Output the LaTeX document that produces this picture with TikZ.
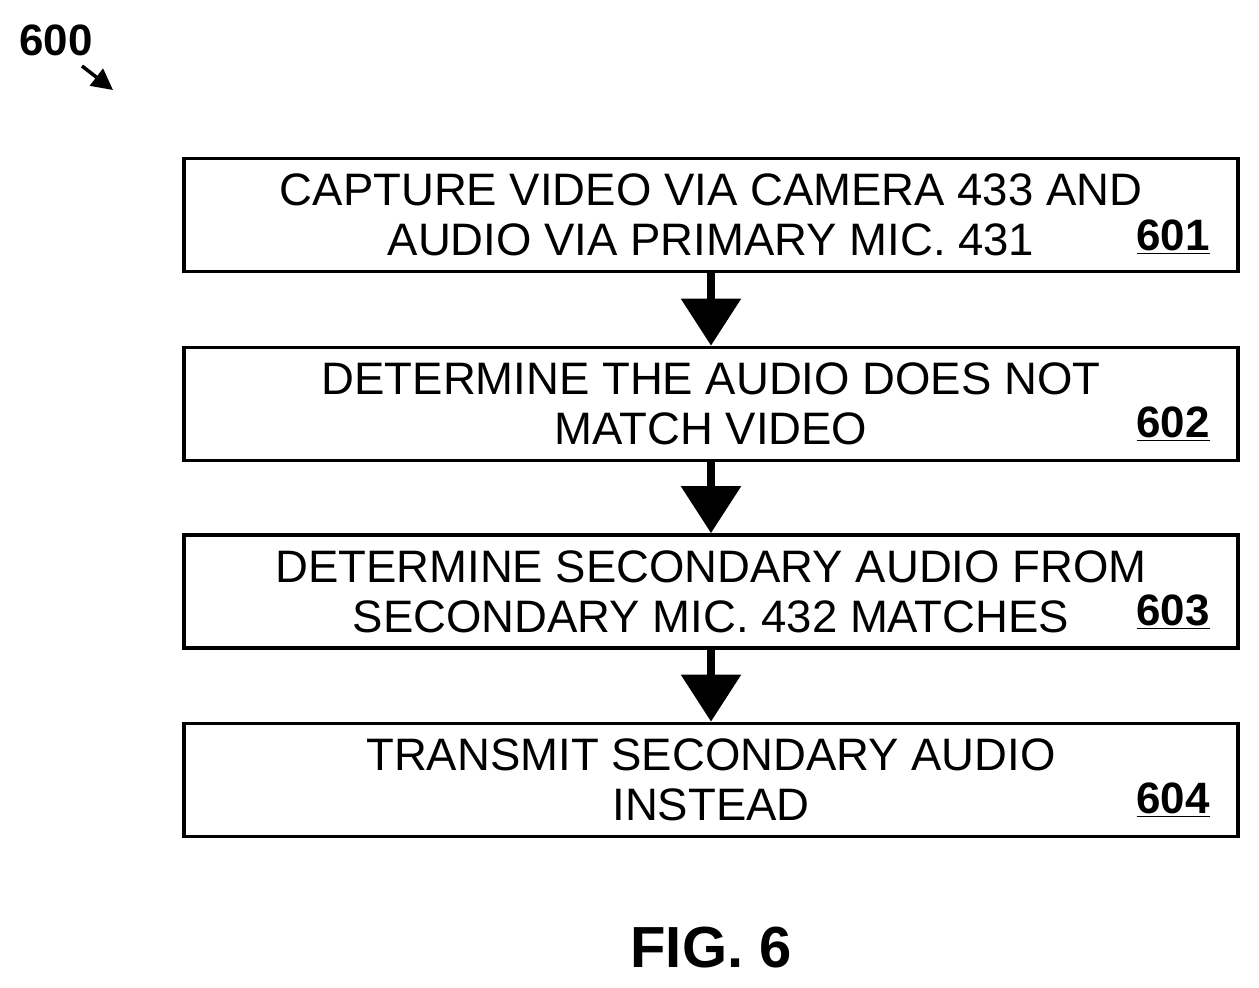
\documentclass[tikz,border=0pt]{standalone}
\usepackage{fontspec}
\setmainfont{Liberation Sans}
\usetikzlibrary{arrows.meta}
\begin{document}
\begin{tikzpicture}[x=0.02cm,y=-0.02cm,
  box/.style={draw,line width=2.2pt,minimum width=21.08cm,minimum height=2.26cm,inner sep=0pt},
  txt/.style={align=center,font=\fontsize{25.9}{28.5}\selectfont},
  lab/.style={font=\bfseries\fontsize{25}{28}\selectfont,anchor=east},
  arr/.style={line width=4pt,-{Triangle[width=50pt/1.5,length=40pt/1.5]}}]
\useasboundingbox (0,0) rectangle (1259,988);
\foreach \n/\y in {1/215,2/404,3/591.5,4/780}{\node[box] (b\n) at (711,\y) {};}
\node[txt] (t1) at (711,215) {CAPTURE VIDEO VIA CAMERA 433 AND\\AUDIO VIA PRIMARY MIC. 431};
\node[txt] (t2) at (711,404) {DETERMINE THE AUDIO DOES NOT\\MATCH VIDEO};
\node[txt] (t3) at (711,591.5) {DETERMINE SECONDARY AUDIO FROM\\SECONDARY MIC. 432 MATCHES};
\node[txt] (t4) at (711,780) {TRANSMIT SECONDARY AUDIO\\INSTEAD};
\node[lab] (l1) at (1216,237) {\underline{601}};
\node[lab] (l2) at (1216,424) {\underline{602}};
\node[lab] (l3) at (1216,612) {\underline{603}};
\node[lab] (l4) at (1216,800) {\underline{604}};
\draw[arr] (b1.south) -- (b2.north);
\draw[arr] (b2.south) -- (b3.north);
\draw[arr] (b3.south) -- (b4.north);
\node[font=\bfseries\fontsize{25}{28}\selectfont] (n600) at (56,40) {600};
\coordinate (a600) at (113,90);
\draw[line width=2pt,-{Triangle[width=12pt,length=12pt]}] (82,66) -- (a600);
\node[font=\bfseries\fontsize{33}{36}\selectfont] (fig) at (711,948) {FIG. 6};
\end{tikzpicture}
\end{document}
